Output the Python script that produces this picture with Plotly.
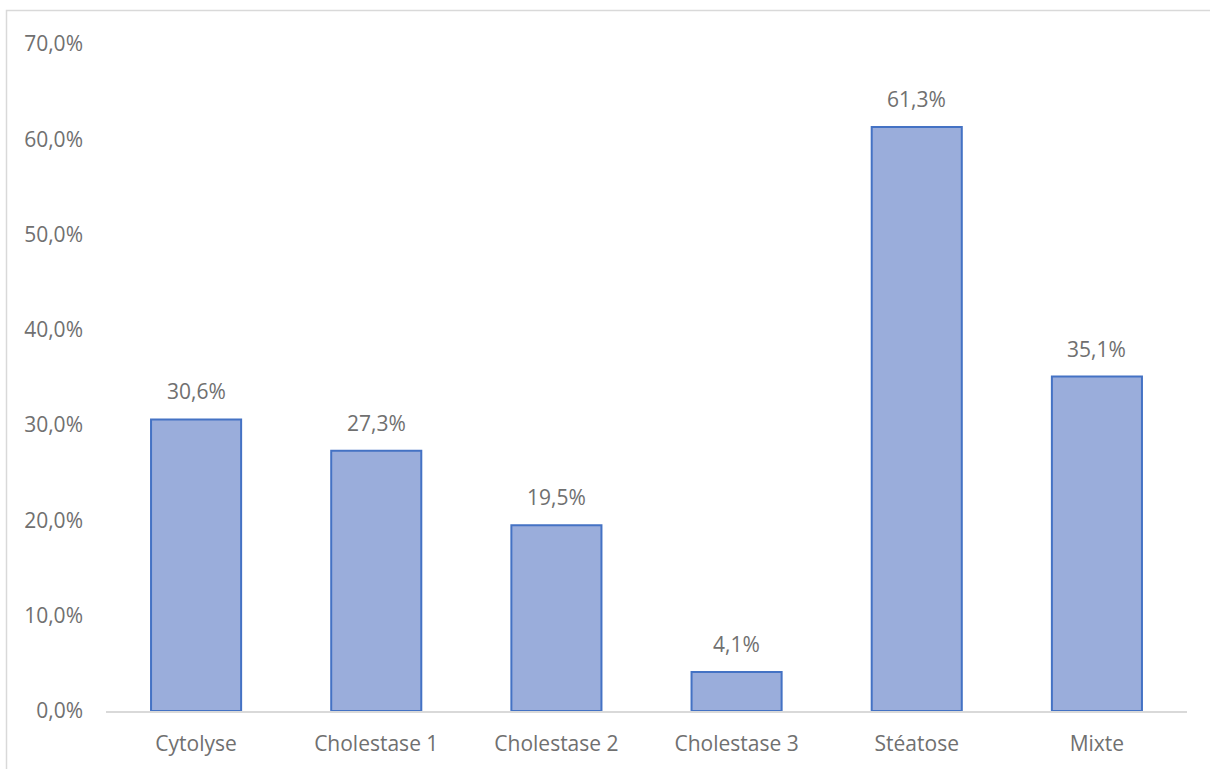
import plotly.graph_objects as go

categories = ["Cytolyse", "Cholestase 1", "Cholestase 2", "Cholestase 3", "Stéatose", "Mixte"]
values = [0.306, 0.273, 0.195, 0.041, 0.613, 0.351]
labels = ["30,6%", "27,3%", "19,5%", "4,1%", "61,3%", "35,1%"]

W, H = 1210, 769
ml, mr, mt, mb = 106, 23, 44, 58
pw, ph = W - ml - mr, H - mt - mb
FS = 21
TXT = "#707070"

fig = go.Figure()
fig.add_trace(go.Bar(
    x=categories, y=values,
    marker=dict(color="#9AADDB", line=dict(color="#4472C4", width=2)),
    hoverinfo="skip",
))

for c, v, t in zip(categories, values, labels):
    fig.add_annotation(x=c, y=v, text=t, showarrow=False, yanchor="bottom",
                       yshift=12, font=dict(size=FS, color=TXT, family="Open Sans"))

def px_x(p):
    return (p - ml) / pw

def px_y(p):
    return (H - mb - p) / ph

fig.add_shape(type="rect", xref="paper", yref="paper",
              x0=px_x(6.5), x1=px_x(1215), y0=px_y(775), y1=px_y(10.5),
              line=dict(color="#D9D9D9", width=1.5), layer="below")

fig.update_layout(
    width=W, height=H,
    margin=dict(l=ml, r=mr, t=mt, b=mb),
    paper_bgcolor="white", plot_bgcolor="white",
    separators=", ",
    bargap=0.5,
    showlegend=False,
    font=dict(family="Open Sans", size=FS, color=TXT),
    xaxis=dict(showgrid=False, showline=True, linecolor="#D9D9D9", linewidth=1.5,
               ticks="", ticklabelstandoff=13, tickfont=dict(size=FS, color=TXT)),
    yaxis=dict(range=[0, 0.7], dtick=0.1, tickformat=".1%", showgrid=False,
               zeroline=False, showline=False, ticks="", ticklen=0,
               ticklabelstandoff=22,
               tickfont=dict(size=FS, color=TXT)),
)

fig.write_html("out.html")
